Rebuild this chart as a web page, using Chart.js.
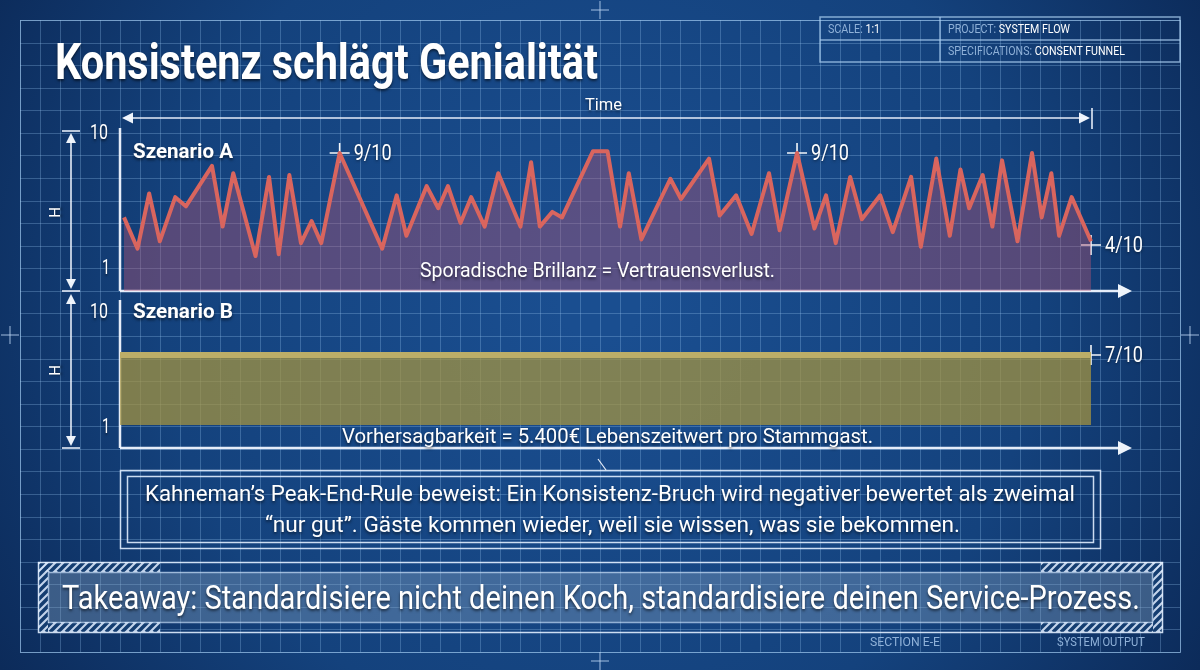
<!DOCTYPE html>
<html>
<head>
<meta charset="utf-8">
<script src="https://cdn.jsdelivr.net/npm/chart.js@4.4.0/dist/chart.umd.min.js"></script>
<style>
html, body { margin: 0; padding: 0; background: #0c2c5a; }
#stage { position: relative; width: 1200px; height: 670px; overflow: hidden;
  font-family: "Liberation Sans Narrow", "Roboto", "Liberation Sans", sans-serif; }
#stage canvas { position: absolute; }
.t { position: absolute; white-space: nowrap; color: #fff; transform-origin: 0 50%;
  text-shadow: 0 2px 3px rgba(0,0,0,0.55); }
.dim { color: #8fb1d8; text-shadow: none; }
.dim b { color: #fff; font-weight: normal; }
</style>
</head>
<body>
<div id="stage">
  <canvas id="bg" width="1200" height="670" style="left:0;top:0"></canvas>
  <canvas id="chartA" width="1080" height="200" style="left:104px;top:110px"></canvas>
  <canvas id="chartB" width="1090" height="140" style="left:100px;top:300px"></canvas>
</div>
<script>
// Szenario A: time (0-100) and score (1-10)
const timeA = [0,1.4,2.6,3.7,5.3,6.4,9.1,10.2,11.3,13.6,15.0,16.0,17.1,18.3,19.4,20.4,22.3,
  26.7,28.2,29.2,31.3,32.5,33.5,34.8,35.9,37.3,38.7,41.0,42.1,43.0,44.3,45.3,48.5,50.0,
  51.3,52.2,53.5,56.5,57.6,60.5,61.6,63.3,64.9,66.7,67.8,69.6,71.4,72.6,73.6,75.1,76.3,
  78.2,79.5,81.4,82.4,84.0,85.4,86.5,87.4,88.8,89.8,90.8,92.4,93.9,94.9,95.9,96.7,98.0,100];
const scoreA = [5.5,3.8,6.8,4.2,6.6,6.1,8.3,5.0,7.9,3.4,7.7,3.5,7.8,4.1,5.3,4.1,9.0,
  3.8,6.7,4.5,7.2,6.0,7.2,5.2,6.6,5.0,7.9,5.0,8.5,5.0,5.8,5.5,9.1,9.1,
  5.0,7.9,4.3,7.6,6.5,8.7,5.6,6.7,4.6,7.9,4.8,9.0,4.9,6.7,4.1,7.7,5.4,
  6.7,4.7,7.7,3.9,8.7,4.5,8.1,6.0,7.8,5.0,8.6,4.2,9.0,5.5,7.9,4.5,6.6,4.2];
const markTimeA = [22.3, 69.6, 100];
const markScoreA = [9, 9, 4];
const markLabelA = ['9/10', '9/10', '4/10'];

// Szenario B: flat
const timeB = [0, 100];
const scoreB = [7, 7];
const markTimeB = [100];
const markScoreB = [7];
const markLabelB = ['7/10'];

const yTickLabels = ['10', '1'];

const stage = document.getElementById('stage');

// ---------- background: blueprint ----------
const bg = document.getElementById('bg').getContext('2d');
const grad = bg.createRadialGradient(600, 300, 40, 600, 320, 760);
grad.addColorStop(0, '#1a4e90');
grad.addColorStop(0.55, '#14427d');
grad.addColorStop(1, '#0a2551');
bg.fillStyle = grad;
bg.fillRect(0, 0, 1200, 670);

bg.strokeStyle = 'rgba(150,195,240,0.3)';
bg.lineWidth = 1;
for (let x = 20; x <= 1180; x += 20) {
  bg.beginPath(); bg.moveTo(x + 0.5, 20); bg.lineTo(x + 0.5, 652); bg.stroke();
}
for (let i = 0; i <= 28; i++) {
  const y = Math.round(20 + i * 632 / 28) + 0.5;
  bg.beginPath(); bg.moveTo(20, y); bg.lineTo(1180, y); bg.stroke();
}
bg.strokeStyle = 'rgba(170,210,245,0.55)';
bg.strokeRect(20.5, 20.5, 1160, 632);

function line(x1, y1, x2, y2, w, c) {
  bg.strokeStyle = c || 'rgba(240,246,255,0.95)';
  bg.lineWidth = w || 2;
  bg.beginPath(); bg.moveTo(x1, y1); bg.lineTo(x2, y2); bg.stroke();
}
function head(x, y, dir, s) {
  // dir: 'r','l','u','d'
  bg.fillStyle = 'rgba(245,249,255,0.97)';
  bg.beginPath();
  if (dir === 'r') { bg.moveTo(x, y); bg.lineTo(x - s, y - s / 2); bg.lineTo(x - s, y + s / 2); }
  if (dir === 'l') { bg.moveTo(x, y); bg.lineTo(x + s, y - s / 2); bg.lineTo(x + s, y + s / 2); }
  if (dir === 'u') { bg.moveTo(x, y); bg.lineTo(x - s / 2, y + s); bg.lineTo(x + s / 2, y + s); }
  if (dir === 'd') { bg.moveTo(x, y); bg.lineTo(x - s / 2, y - s); bg.lineTo(x + s / 2, y - s); }
  bg.closePath(); bg.fill();
}
function cross(x, y, s) {
  line(x - s, y, x + s, y, 1.2, 'rgba(190,215,245,0.7)');
  line(x, y - s, x, y + s, 1.2, 'rgba(190,215,245,0.7)');
}
cross(600, 10, 9); cross(10, 335, 9); cross(1190, 335, 9); cross(600, 661, 9);

// title block
bg.strokeStyle = 'rgba(170,205,240,0.75)'; bg.lineWidth = 1.5;
bg.strokeRect(820, 17, 360, 45);
line(820, 40, 1180, 40, 1.5, 'rgba(170,205,240,0.75)');
line(940, 17, 940, 62, 1.5, 'rgba(170,205,240,0.75)');

// time arrow
line(124, 118, 1088, 118, 1.6);
head(122, 118, 'l', 11); head(1090, 118, 'r', 11);
line(1092, 108, 1092, 129, 1.6);

// axes A
line(120, 128, 120, 291, 2.5);
line(120, 291, 1120, 291, 2.5);
head(1132, 291, 'r', 14);
// axes B
line(120, 300, 120, 448, 2.5);
line(120, 448, 1120, 448, 2.5);
head(1132, 448, 'r', 14);

// dimension lines
line(62, 131, 80, 131, 1.6); line(62, 291, 80, 291, 1.6); line(62, 448, 80, 448, 1.6);
line(71, 140, 71, 282, 1.6); head(71, 133, 'u', 10); head(71, 289, 'd', 10);
line(71, 302, 71, 439, 1.6); head(71, 294, 'u', 10); head(71, 446, 'd', 10);

// note box
bg.strokeStyle = 'rgba(225,238,255,0.9)'; bg.lineWidth = 1.5;
bg.strokeRect(120.5, 470.5, 980, 78);
bg.strokeRect(127.5, 476.5, 966, 66);
line(598, 459, 606, 470, 1.2);

// takeaway banner
function hatch(x, y, w, h) {
  bg.save();
  bg.beginPath(); bg.rect(x, y, w, h); bg.clip();
  bg.fillStyle = 'rgba(215,230,248,0.9)';
  bg.fillRect(x, y, w, h);
  bg.strokeStyle = '#143d70'; bg.lineWidth = 3.5;
  for (let i = x - h - 10; i < x + w + h; i += 8) {
    bg.beginPath(); bg.moveTo(i, y + h); bg.lineTo(i + h, y); bg.stroke();
  }
  bg.restore();
}
hatch(38, 562, 122, 10); hatch(38, 622, 122, 10); hatch(38, 562, 10, 70);
hatch(1041, 562, 122, 10); hatch(1041, 622, 122, 10); hatch(1153, 562, 10, 70);
bg.fillStyle = 'rgba(140,168,196,0.36)';
bg.fillRect(48, 572, 1105, 50);
bg.strokeStyle = 'rgba(225,238,255,0.9)'; bg.lineWidth = 1.5;
bg.strokeRect(38.5, 562.5, 1124, 70);
bg.strokeStyle = 'rgba(200,222,248,0.7)';
bg.strokeRect(48.5, 572.5, 1104, 50);

// ---------- charts ----------
const markLabels = {
  id: 'markLabels',
  afterDatasetsDraw(chart) {
    const ctx = chart.ctx;
    chart.data.datasets.forEach((ds, i) => {
      if (!ds.markLabels) return;
      const meta = chart.getDatasetMeta(i);
      meta.data.forEach((pt, j) => {
        ctx.save();
        ctx.font = '22px "Liberation Sans Narrow", "Roboto", sans-serif';
        const w = ctx.measureText(ds.markLabels[j]).width;
        ctx.translate(pt.x + 14, pt.y);
        ctx.scale(38 / w, 1);
        ctx.fillStyle = '#ffffff';
        ctx.textBaseline = 'middle';
        ctx.shadowColor = 'rgba(0,0,0,0.5)'; ctx.shadowBlur = 3; ctx.shadowOffsetY = 1;
        ctx.fillText(ds.markLabels[j], 0, 1);
        ctx.restore();
      });
    });
  }
};

function baseOptions(ymin, ymax, pad) {
  return {
    responsive: false,
    animation: false,
    layout: { padding: pad },
    plugins: { legend: { display: false }, tooltip: { enabled: false } },
    scales: {
      x: { type: 'linear', min: 0, max: 100, display: false },
      y: { min: ymin, max: ymax, display: false }
    }
  };
}

new Chart(document.getElementById('chartA'), {
  type: 'line',
  data: {
    datasets: [{
      data: timeA.map((t, i) => ({ x: t, y: scoreA[i] })),
      borderColor: '#d9655e',
      borderWidth: 4,
      borderJoinStyle: 'round',
      backgroundColor: 'rgba(185,85,115,0.4)',
      fill: 'start',
      pointRadius: 0,
      tension: 0,
      clip: false
    }, {
      data: markTimeA.map((t, i) => ({ x: t, y: markScoreA[i] })),
      markLabels: markLabelA,
      showLine: false,
      pointStyle: 'cross',
      pointRadius: 10,
      pointBorderWidth: 1.6,
      pointBorderColor: 'rgba(255,255,255,0.95)',
      clip: false
    }]
  },
  options: baseOptions(1.5, 10, { left: 20, top: 24.6, right: 93, bottom: 19 }),
  plugins: [markLabels]
});

new Chart(document.getElementById('chartB'), {
  type: 'line',
  data: {
    datasets: [{
      data: timeB.map((t, i) => ({ x: t, y: scoreB[i] })),
      borderColor: '#bcae68',
      borderWidth: 6,
      backgroundColor: 'rgba(168,150,62,0.72)',
      fill: 'start',
      pointRadius: 0,
      clip: false
    }, {
      data: markTimeB.map((t, i) => ({ x: t, y: markScoreB[i] })),
      markLabels: markLabelB,
      showLine: false,
      pointStyle: 'cross',
      pointRadius: 10,
      pointBorderWidth: 1.6,
      pointBorderColor: 'rgba(255,255,255,0.95)',
      clip: false
    }]
  },
  options: baseOptions(1, 10, { left: 20, top: 20, right: 99, bottom: 15 }),
  plugins: [markLabels]
});

// ---------- text ----------
function addText(html, x, cy, size, w, cls, weight) {
  const d = document.createElement('div');
  d.className = 't ' + (cls || '');
  d.innerHTML = html;
  d.style.left = x + 'px';
  d.style.top = (cy - size / 2) + 'px';
  d.style.fontSize = size + 'px';
  d.style.lineHeight = size + 'px';
  if (weight) d.style.fontWeight = weight;
  stage.appendChild(d);
  if (w) d.style.transform = 'scaleX(' + (w / d.getBoundingClientRect().width) + ')';
  return d;
}

addText('Konsistenz schlägt Genialität', 55, 62, 50, 543, '', 'bold');
addText('SCALE: <b>1:1</b>', 828, 29, 12, 52, 'dim');
addText('PROJECT: <b>SYSTEM FLOW</b>', 948, 29, 12, 122, 'dim');
addText('SPECIFICATIONS: <b>CONSENT FUNNEL</b>', 948, 51, 12, 177, 'dim');
addText('Time', 585, 105, 16, 37);

addText(yTickLabels[0], 90, 132, 20, 18);
addText(yTickLabels[1], 102, 267, 20, 8);
addText(yTickLabels[0], 90, 311, 20, 18);
addText(yTickLabels[1], 102, 426, 20, 8);

const h1 = addText('H', 50, 212, 15, 0);
h1.style.transform = 'rotate(-90deg)'; h1.style.transformOrigin = '50% 50%';
const h2 = addText('H', 50, 370, 15, 0);
h2.style.transform = 'rotate(-90deg)'; h2.style.transformOrigin = '50% 50%';

addText('Szenario A', 133, 151, 20, 100, '', 'bold');
addText('Szenario B', 133, 311, 20, 100, '', 'bold');
addText('Sporadische Brillanz = Vertrauensverlust.', 420, 270, 20, 355);
addText('Vorhersagbarkeit = 5.400€ Lebenszeitwert pro Stammgast.', 342, 436, 20, 531);
addText('Kahneman’s Peak-End-Rule beweist: Ein Konsistenz-Bruch wird negativer bewertet als zweimal', 145, 494, 22, 930);
addText('“nur gut”. Gäste kommen wieder, weil sie wissen, was sie bekommen.', 265, 525, 22, 695);
addText('Takeaway: Standardisiere nicht deinen Koch, standardisiere deinen Service-Prozess.', 62, 597, 34, 1078);
addText('SECTION E-E', 870, 642, 12, 70, 'dim');
addText('SYSTEM OUTPUT', 1057, 642, 12, 88, 'dim');
</script>
</body>
</html>
